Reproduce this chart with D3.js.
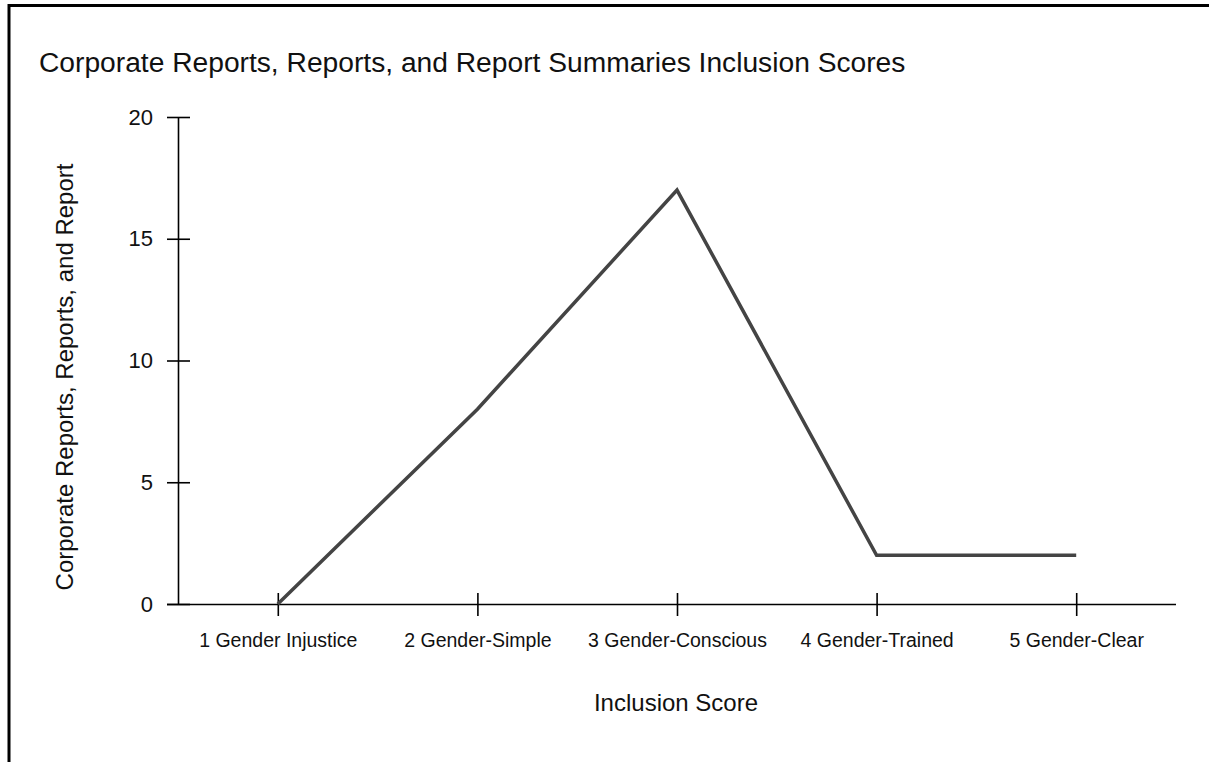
<!DOCTYPE html>
<html><head><meta charset="utf-8">
<script src="https://cdn.jsdelivr.net/npm/d3@7"></script>
<style>body{margin:0;background:#fff}svg{display:block}text{font-family:"Liberation Sans",Arial,sans-serif}</style>
</head><body><svg id="c" width="1209" height="762"></svg>
<script>
const categories = ["1 Gender Injustice","2 Gender-Simple","3 Gender-Conscious","4 Gender-Trained","5 Gender-Clear"];
const values = [0, 8, 17, 2, 2];
const yTicks = [0, 5, 10, 15, 20];
const title = "Corporate Reports, Reports, and Report Summaries Inclusion Scores";
const xLabel = "Inclusion Score";
const yLabel = "Corporate Reports, Reports, and Report";

const svg = d3.select("#c");
// frame
svg.append("path").attr("d","M9,762V5.5H1209").attr("fill","none").attr("stroke","#000").attr("stroke-width",3);

const x = d3.scalePoint().domain(categories).range([178,1176]).padding(0.5);
const y = d3.scaleLinear().domain([0,20]).range([604,117]);

svg.append("text").attr("x",39).attr("y",72).attr("font-size",28.2).attr("fill","#111").text(title);

const ya = svg.append("g").attr("transform","translate(178,0)")
  .call(d3.axisLeft(y).tickValues(yTicks).tickSizeInner(11).tickSizeOuter(0).tickPadding(14));
ya.selectAll(".tick line").attr("x2",12).attr("x1",-11);
ya.selectAll("path.domain,line").attr("stroke","#000").attr("stroke-width",1.6);
ya.selectAll("text").attr("font-size",22).attr("fill","#111").attr("font-family","Liberation Sans, Arial, sans-serif");

const xa = svg.append("g").attr("transform","translate(0,604)")
  .call(d3.axisBottom(x).tickSizeInner(12).tickSizeOuter(0).tickPadding(17));
xa.selectAll(".tick line").attr("y1",-11).attr("y2",12);
xa.select("path.domain").attr("d","M167,0.5H1176");
xa.selectAll("path.domain,line").attr("stroke","#000").attr("stroke-width",1.6);
xa.selectAll("text").attr("font-size",19.5).attr("fill","#111").attr("font-family","Liberation Sans, Arial, sans-serif");

svg.append("text").attr("x",676).attr("y",711).attr("text-anchor","middle").attr("font-size",24).attr("fill","#111").text(xLabel);
svg.append("text").attr("transform","translate(73,377) rotate(-90)").attr("text-anchor","middle").attr("font-size",24).attr("fill","#111").text(yLabel);

const line = d3.line().x((d,i)=>x(categories[i])).y(d=>y(d));
svg.append("path").datum(values).attr("d",line).attr("fill","none").attr("stroke","#444").attr("stroke-width",3.5);
</script></body></html>
